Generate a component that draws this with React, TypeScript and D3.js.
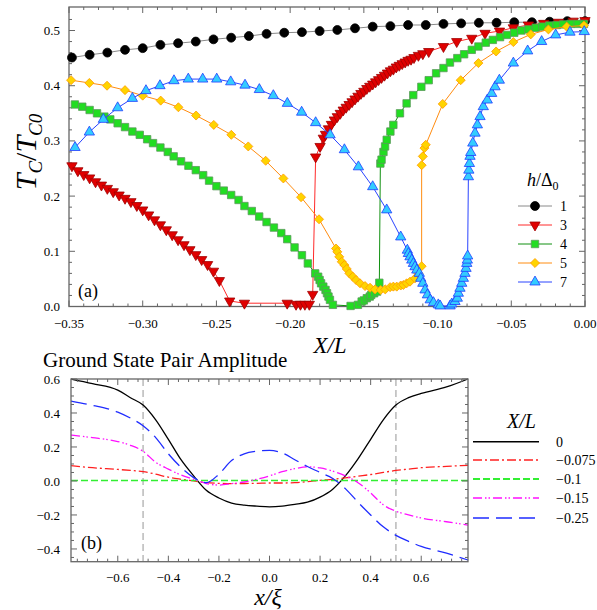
import React, { useRef, useEffect } from 'react';
import * as d3 from 'd3';

// ---- panel (a): Tc/Tc0 vs X/L, one series per h/Delta0 ----
const hLabels = ['1', '3', '4', '5', '7'];

const h1: [number, number][] = [
  [-0.348, 0.451], [-0.336, 0.456], [-0.324, 0.46], [-0.312, 0.465], [-0.3, 0.468],
  [-0.288, 0.474], [-0.276, 0.477], [-0.264, 0.48], [-0.252, 0.484], [-0.24, 0.487],
  [-0.228, 0.49], [-0.216, 0.494], [-0.204, 0.496], [-0.192, 0.497], [-0.18, 0.499],
  [-0.168, 0.501], [-0.156, 0.504], [-0.144, 0.507], [-0.132, 0.508], [-0.12, 0.51],
  [-0.108, 0.51], [-0.096, 0.512], [-0.084, 0.513], [-0.072, 0.514], [-0.06, 0.514],
  [-0.048, 0.515], [-0.036, 0.515], [-0.024, 0.516], [-0.012, 0.517], [0.0, 0.517],
];

const h3: [number, number][] = [
  [-0.348, 0.255], [-0.344, 0.246], [-0.34, 0.239], [-0.336, 0.233], [-0.332, 0.226],
  [-0.328, 0.22], [-0.324, 0.214], [-0.32, 0.208], [-0.316, 0.202], [-0.312, 0.196],
  [-0.308, 0.19], [-0.304, 0.183], [-0.3, 0.175], [-0.296, 0.166], [-0.292, 0.157],
  [-0.288, 0.148], [-0.284, 0.139], [-0.28, 0.13], [-0.276, 0.121], [-0.272, 0.112],
  [-0.268, 0.103], [-0.264, 0.094], [-0.26, 0.085], [-0.256, 0.076], [-0.252, 0.064],
  [-0.248, 0.047], [-0.241, 0.01], [-0.231, 0.006], [-0.202, 0.006], [-0.196, 0.004],
  [-0.193, 0.004], [-0.19, 0.004], [-0.187, 0.004], [-0.1847, 0.022], [-0.1827, 0.271],
  [-0.1797, 0.29], [-0.1775, 0.305], [-0.176, 0.312], [-0.174, 0.322], [-0.172, 0.33],
  [-0.17, 0.338], [-0.168, 0.344], [-0.166, 0.35], [-0.164, 0.356], [-0.162, 0.361],
  [-0.16, 0.366], [-0.158, 0.371], [-0.156, 0.376], [-0.154, 0.381], [-0.152, 0.386],
  [-0.15, 0.39], [-0.148, 0.395], [-0.146, 0.399], [-0.144, 0.403], [-0.142, 0.407],
  [-0.14, 0.411], [-0.138, 0.415], [-0.136, 0.419], [-0.134, 0.423], [-0.132, 0.427],
  [-0.13, 0.43], [-0.128, 0.434], [-0.126, 0.437], [-0.124, 0.44], [-0.122, 0.443],
  [-0.12, 0.446], [-0.118, 0.448], [-0.116, 0.451], [-0.113, 0.455], [-0.11, 0.458],
  [-0.106, 0.462], [-0.096, 0.471], [-0.087, 0.48], [-0.0768, 0.486], [-0.0678, 0.495],
  [-0.058, 0.499], [-0.0486, 0.505], [-0.0384, 0.51], [-0.028, 0.513], [-0.018, 0.515],
  [-0.008, 0.517], [0.0, 0.518],
];

const h4: [number, number][] = [
  [-0.346, 0.366], [-0.341, 0.362], [-0.336, 0.356], [-0.331, 0.35], [-0.326, 0.344],
  [-0.322, 0.339], [-0.317, 0.332], [-0.312, 0.325], [-0.307, 0.317], [-0.302, 0.311],
  [-0.297, 0.303], [-0.293, 0.296], [-0.288, 0.288], [-0.283, 0.28], [-0.279, 0.272],
  [-0.274, 0.263], [-0.269, 0.255], [-0.264, 0.247], [-0.259, 0.238], [-0.255, 0.228],
  [-0.25, 0.218], [-0.245, 0.21], [-0.24, 0.202], [-0.235, 0.193], [-0.231, 0.182],
  [-0.226, 0.173], [-0.221, 0.163], [-0.216, 0.153], [-0.211, 0.143], [-0.206, 0.133],
  [-0.202, 0.122], [-0.197, 0.107], [-0.192, 0.093], [-0.188, 0.078], [-0.183, 0.06],
  [-0.181, 0.054], [-0.18, 0.048], [-0.179, 0.042], [-0.1775, 0.036], [-0.176, 0.03],
  [-0.175, 0.024], [-0.174, 0.018], [-0.173, 0.012], [-0.171, 0.003], [-0.159, 0.001],
  [-0.154, 0.003], [-0.1515, 0.009], [-0.15, 0.011], [-0.148, 0.015], [-0.146, 0.018],
  [-0.145, 0.021], [-0.143, 0.024], [-0.141, 0.027], [-0.1395, 0.043], [-0.1388, 0.259],
  [-0.138, 0.266], [-0.1367, 0.28], [-0.1356, 0.29], [-0.1345, 0.302], [-0.132, 0.317],
  [-0.13, 0.329], [-0.1255, 0.35], [-0.121, 0.368], [-0.1165, 0.383], [-0.111, 0.398],
  [-0.106, 0.41], [-0.101, 0.4225], [-0.096, 0.432], [-0.0916, 0.442], [-0.0866, 0.45],
  [-0.082, 0.457], [-0.0768, 0.465], [-0.0723, 0.471], [-0.0673, 0.478], [-0.0625, 0.483],
  [-0.0576, 0.488], [-0.053, 0.492], [-0.048, 0.496], [-0.0433, 0.5], [-0.0384, 0.502],
  [-0.0334, 0.505], [-0.0289, 0.507], [-0.0242, 0.509], [-0.0192, 0.51], [-0.0147, 0.511],
  [-0.0097, 0.512], [-0.005, 0.512], [-0.0007, 0.512],
];

const h5: [number, number][] = [
  [-0.3486, 0.41], [-0.3362, 0.405], [-0.3242, 0.4], [-0.312, 0.392], [-0.3, 0.382],
  [-0.2878, 0.373], [-0.2758, 0.361], [-0.2638, 0.346], [-0.2518, 0.329], [-0.2399, 0.311],
  [-0.2284, 0.29], [-0.2166, 0.264], [-0.2046, 0.232], [-0.1926, 0.198], [-0.1804, 0.158],
  [-0.1689, 0.105], [-0.168, 0.099], [-0.1667, 0.09], [-0.165, 0.081], [-0.1632, 0.075],
  [-0.1616, 0.068], [-0.1598, 0.06], [-0.1575, 0.054], [-0.1553, 0.048], [-0.1526, 0.042],
  [-0.1492, 0.037], [-0.1458, 0.034], [-0.1424, 0.031], [-0.1386, 0.03], [-0.1355, 0.031],
  [-0.1322, 0.035], [-0.13, 0.036], [-0.1277, 0.036], [-0.125, 0.038], [-0.1232, 0.039],
  [-0.121, 0.042], [-0.1187, 0.045], [-0.1153, 0.051], [-0.113, 0.06], [-0.1108, 0.073],
  [-0.1108, 0.256], [-0.11, 0.272], [-0.1089, 0.287], [-0.108, 0.293], [-0.0965, 0.367],
  [-0.0843, 0.41], [-0.0723, 0.441], [-0.0603, 0.462], [-0.0486, 0.479], [-0.0368, 0.493],
  [-0.0248, 0.502], [-0.0124, 0.507], [-0.0007, 0.509],
];

const h7: [number, number][] = [
  [-0.3459, 0.288], [-0.3362, 0.316], [-0.3267, 0.339], [-0.317, 0.36], [-0.307, 0.377],
  [-0.2978, 0.391], [-0.2883, 0.4], [-0.2788, 0.409], [-0.2691, 0.412], [-0.2593, 0.412],
  [-0.2498, 0.412], [-0.2403, 0.407], [-0.2306, 0.401], [-0.2209, 0.393], [-0.2114, 0.382],
  [-0.2019, 0.368], [-0.1922, 0.352], [-0.1827, 0.333], [-0.1729, 0.311], [-0.1632, 0.284],
  [-0.1537, 0.253], [-0.144, 0.217], [-0.1345, 0.175], [-0.125, 0.126], [-0.1205, 0.102],
  [-0.1198, 0.096], [-0.1187, 0.09], [-0.1175, 0.084], [-0.1164, 0.078], [-0.1153, 0.072],
  [-0.1141, 0.066], [-0.1124, 0.06], [-0.1114, 0.051], [-0.11, 0.042], [-0.1085, 0.03],
  [-0.1069, 0.021], [-0.105, 0.012], [-0.1028, 0.007], [-0.0995, 0.003], [-0.0983, 0.001],
  [-0.0915, 0.001], [-0.0904, 0.0045], [-0.0882, 0.009], [-0.0866, 0.015], [-0.0859, 0.024],
  [-0.0848, 0.033], [-0.0836, 0.042], [-0.0825, 0.051], [-0.0814, 0.06], [-0.0807, 0.069],
  [-0.0802, 0.078], [-0.0798, 0.084], [-0.0796, 0.0915], [-0.0791, 0.235], [-0.0788, 0.247],
  [-0.0784, 0.259], [-0.078, 0.272], [-0.0775, 0.279], [-0.0761, 0.296], [-0.0746, 0.314],
  [-0.073, 0.329], [-0.0712, 0.344], [-0.069, 0.362], [-0.0663, 0.374], [-0.0633, 0.386],
  [-0.061, 0.398], [-0.0581, 0.41], [-0.0486, 0.441], [-0.0389, 0.463], [-0.0294, 0.48],
  [-0.0199, 0.492], [-0.0102, 0.497], [-0.0005, 0.498],
];

const topTicksX = [-0.35, -0.3, -0.25, -0.2, -0.15, -0.1, -0.05, 0];
const topTicksY = [0, 0.1, 0.2, 0.3, 0.4, 0.5];

// ---- panel (b): ground state pair amplitude vs x/xi ----
const xs = [-0.785, -0.7, -0.6, -0.55, -0.5, -0.45, -0.4, -0.35, -0.3, -0.25, -0.2, -0.15, -0.1, -0.05, 0,
  0.05, 0.1, 0.15, 0.2, 0.25, 0.3, 0.35, 0.4, 0.45, 0.5, 0.55, 0.6, 0.7, 0.785];
const ampLabels = ['0', '\u22120.075', '\u22120.1', '\u22120.15', '\u22120.25'];
const amp0 = [0.6, 0.573, 0.535, 0.49, 0.447, 0.36, 0.245, 0.125, 0.03, -0.055, -0.1, -0.13, -0.142, -0.148, -0.152,
  -0.148, -0.138, -0.125, -0.095, -0.048, 0.03, 0.13, 0.245, 0.36, 0.447, 0.49, 0.515, 0.553, 0.6];
const amp075 = [0.09, 0.078, 0.068, 0.062, 0.055, 0.04, 0.022, 0.01, 0.0, -0.01, -0.014, -0.016, -0.015, -0.014, -0.012,
  -0.012, -0.01, -0.004, 0.004, 0.01, 0.018, 0.028, 0.038, 0.05, 0.062, 0.07, 0.078, 0.086, 0.092];
const amp1 = [0.003, 0.003, 0.003, 0.003, 0.003, 0.003, 0.003, 0.003, 0.003, 0.003, 0.003, 0.003, 0.003, 0.003, 0.003,
  0.003, 0.003, 0.003, 0.003, 0.003, 0.003, 0.003, 0.003, 0.003, 0.003, 0.003, 0.003, 0.003, 0.003];
const amp15 = [0.27, 0.255, 0.232, 0.21, 0.175, 0.11, 0.07, 0.035, 0.01, -0.015, -0.024, -0.016, -0.006, 0.01, 0.03,
  0.055, 0.072, 0.083, 0.077, 0.058, 0.03, -0.01, -0.07, -0.14, -0.178, -0.2, -0.218, -0.24, -0.26];
const amp25 = [0.47, 0.445, 0.405, 0.37, 0.325, 0.255, 0.16, 0.08, 0.02, -0.01, 0.04, 0.12, 0.16, 0.175, 0.18,
  0.165, 0.125, 0.085, 0.05, 0.015, -0.045, -0.125, -0.2, -0.27, -0.32, -0.355, -0.385, -0.425, -0.465];

const botTicksX = [-0.6, -0.4, -0.2, 0, 0.2, 0.4, 0.6];
const botTicksY = [-0.4, -0.2, 0, 0.2, 0.4, 0.6];

const FONT = "'Liberation Serif', 'Times New Roman', Tinos, 'DejaVu Serif', serif";
const AXIS = '#666';

const drawFrame = (g, x, y, majX, minX, majY, minY) => {
  const [x0, x1] = x.range();
  const [y0, y1] = y.range();
  const ticks = g.append('g').attr('stroke', AXIS).attr('stroke-width', 1);
  minX.forEach(v => {
    const len = majX.some(m => Math.abs(m - v) < 1e-6) ? 6 : 3;
    ticks.append('line').attr('x1', x(v)).attr('x2', x(v)).attr('y1', y0).attr('y2', y0 - len);
    ticks.append('line').attr('x1', x(v)).attr('x2', x(v)).attr('y1', y1).attr('y2', y1 + len);
  });
  minY.forEach(v => {
    const len = majY.some(m => Math.abs(m - v) < 1e-6) ? 6 : 3;
    ticks.append('line').attr('y1', y(v)).attr('y2', y(v)).attr('x1', x0).attr('x2', x0 + len);
    ticks.append('line').attr('y1', y(v)).attr('y2', y(v)).attr('x1', x1).attr('x2', x1 - len);
  });
  g.append('rect')
    .attr('x', x0).attr('y', y1)
    .attr('width', x1 - x0).attr('height', y0 - y1)
    .attr('fill', 'none').attr('stroke', AXIS).attr('stroke-width', 1.3);
};

const Chart = () => {
  const ref = useRef(null);

  useEffect(() => {
    const svg = d3.select(ref.current);
    svg.selectAll('*').remove();

    // ===== panel (a) =====
    const x = d3.scaleLinear().domain([-0.35, 0]).range([69, 585]);
    const y = d3.scaleLinear().domain([0, 0.5426]).range([306.5, 7]);

    const defs = svg.append('defs');
    defs.append('clipPath').attr('id', 'clipA')
      .append('rect').attr('x', 60).attr('y', 0).attr('width', 535).attr('height', 315);

    const series = [
      { data: h1, line: '#8a8a8a', fill: '#000', stroke: '#000', sym: d3.symbolCircle, size: 62, rot: 0 },
      { data: h3, line: '#ff2a2a', fill: '#e00000', stroke: '#a00000', sym: d3.symbolTriangle, size: 46, rot: 180 },
      { data: h4, line: '#109010', fill: '#22dd22', stroke: '#5a9a5a', sym: d3.symbolSquare, size: 55, rot: 0 },
      { data: h5, line: '#ff8c10', fill: '#ffd400', stroke: '#ff9a00', sym: d3.symbolDiamond2, size: 52, rot: 0 },
      { data: h7, line: '#2a44ff', fill: '#33ccff', stroke: '#1f3cff', sym: d3.symbolTriangle, size: 46, rot: 0 },
    ];

    const root = svg.append('g').style('font-family', FONT);

    const gA = root.append('g');
    drawFrame(gA, x, y, topTicksX, d3.range(-35, 1, 1).map(v => v / 100), topTicksY, d3.range(0, 27, 1).map(v => v / 50));

    const plotA = gA.append('g').attr('clip-path', 'url(#clipA)');
    const line = d3.line().x(d => x(d[0])).y(d => y(d[1]));
    series.forEach(s => {
      plotA.append('path').attr('d', line(s.data)).attr('fill', 'none')
        .attr('stroke', s.line).attr('stroke-width', 1);
      const sym = d3.symbol().type(s.sym).size(s.size);
      plotA.append('g').selectAll('path').data(s.data).enter().append('path')
        .attr('d', sym())
        .attr('transform', d => `translate(${x(d[0])},${y(d[1])}) rotate(${s.rot})`)
        .attr('fill', s.fill).attr('stroke', s.stroke).attr('stroke-width', 0.8);
    });

    // tick labels
    gA.append('g').selectAll('text').data(topTicksX).enter().append('text')
      .attr('x', d => x(d)).attr('y', 328).attr('text-anchor', 'middle')
      .attr('font-size', 13).text(d => d3.format('.2f')(d));
    gA.append('g').selectAll('text').data(topTicksY).enter().append('text')
      .attr('x', 60).attr('y', d => y(d)).attr('dy', '0.35em').attr('text-anchor', 'end')
      .attr('font-size', 13).text(d => d3.format('.1f')(d));

    gA.append('text').attr('x', 78).attr('y', 297).attr('font-size', 18).text('(a)');

    // axis titles
    const tl = gA.append('text').attr('transform', 'translate(36,152) rotate(-90)')
      .attr('text-anchor', 'middle').attr('font-size', 30);
    tl.append('tspan').attr('font-style', 'italic').text('T');
    tl.append('tspan').attr('font-style', 'italic').attr('font-size', 19).attr('dy', 6).text('C');
    tl.append('tspan').attr('dy', -6).text('/');
    tl.append('tspan').attr('font-style', 'italic').text('T');
    tl.append('tspan').attr('font-style', 'italic').attr('font-size', 19).attr('dy', 6).text('C0');

    gA.append('text').attr('x', 330).attr('y', 353).attr('text-anchor', 'middle')
      .attr('font-size', 23).attr('font-style', 'italic').text('X/L');

    // legend (a)
    const lg = gA.append('g');
    const hl = lg.append('text').attr('x', 527).attr('y', 186).attr('font-size', 18);
    hl.append('tspan').attr('font-style', 'italic').text('h');
    hl.append('tspan').text('/\u0394');
    hl.append('tspan').attr('font-size', 12).attr('dy', 4).text('0');
    series.forEach((s, i) => {
      const ly = 206 + i * 19;
      lg.append('line').attr('x1', 518).attr('x2', 552).attr('y1', ly).attr('y2', ly)
        .attr('stroke', s.line).attr('stroke-width', 1);
      lg.append('path').attr('d', d3.symbol().type(s.sym).size(s.size)())
        .attr('transform', `translate(535,${ly}) rotate(${s.rot})`)
        .attr('fill', s.fill).attr('stroke', s.stroke).attr('stroke-width', 0.8);
      lg.append('text').attr('x', 560).attr('y', ly).attr('dy', '0.35em')
        .attr('font-size', 14).text(hLabels[i]);
    });

    // ===== panel (b) =====
    const xb = d3.scaleLinear().domain([-0.785, 0.785]).range([71, 468]);
    const yb = d3.scaleLinear().domain([-0.475, 0.6]).range([561.7, 379]);

    const gB = root.append('g');
    gB.append('text').attr('x', 43).attr('y', 367).attr('font-size', 21)
      .text('Ground State Pair Amplitude');

    [-0.5, 0.5].forEach(v => {
      gB.append('line').attr('x1', xb(v)).attr('x2', xb(v)).attr('y1', 379).attr('y2', 561.7)
        .attr('stroke', '#a8a8a8').attr('stroke-width', 1.2).attr('stroke-dasharray', '7,4');
    });

    const curves = [
      { vals: amp0, color: '#000', dash: null, w: 1.3 },
      { vals: amp075, color: '#ff2020', dash: '9,3,2,3', w: 1.3 },
      { vals: amp1, color: '#33ee33', dash: '7,3', w: 1.5 },
      { vals: amp15, color: '#ff10ff', dash: '9,3,1.5,2,1.5,3', w: 1.3 },
      { vals: amp25, color: '#1f2cff', dash: '16,7', w: 1.3 },
    ];
    const lineB = d3.line().x(d => xb(d[0])).y(d => yb(d[1])).curve(d3.curveMonotoneX);
    curves.forEach(c => {
      const p = gB.append('path').attr('d', lineB(xs.map((v, i) => [v, c.vals[i]])))
        .attr('fill', 'none').attr('stroke', c.color).attr('stroke-width', c.w);
      if (c.dash) p.attr('stroke-dasharray', c.dash);
    });

    drawFrame(gB, xb, yb, botTicksX, d3.range(-19, 20, 1).map(v => v / 25), botTicksY, d3.range(-9, 13, 1).map(v => v / 20));

    gB.append('g').selectAll('text').data(botTicksX).enter().append('text')
      .attr('x', d => xb(d)).attr('y', 582).attr('text-anchor', 'middle')
      .attr('font-size', 13).text(d => d3.format('.1f')(d));
    gB.append('g').selectAll('text').data(botTicksY).enter().append('text')
      .attr('x', 60).attr('y', d => yb(d)).attr('dy', '0.35em').attr('text-anchor', 'end')
      .attr('font-size', 13).text(d => d3.format('.1f')(d));

    gB.append('text').attr('x', 81).attr('y', 549).attr('font-size', 18).text('(b)');

    gB.append('text').attr('x', 268).attr('y', 605).attr('text-anchor', 'middle')
      .attr('font-size', 24).attr('font-style', 'italic').text('x/\u03be');

    // legend (b)
    gB.append('text').attr('x', 507).attr('y', 428).attr('font-size', 20)
      .attr('font-style', 'italic').text('X/L');
    curves.forEach((c, i) => {
      const ly = [441.7, 460, 479, 498, 518][i];
      const l = gB.append('line').attr('x1', 473).attr('x2', 539).attr('y1', ly).attr('y2', ly)
        .attr('stroke', c.color).attr('stroke-width', c.w + 0.3);
      if (c.dash) l.attr('stroke-dasharray', c.dash);
      gB.append('text').attr('x', 556).attr('y', ly).attr('dy', '0.35em')
        .attr('font-size', 14).text(ampLabels[i]);
    });
  }, []);

  return (
    <svg ref={ref} width={597} height={610}
      style={{ position: 'absolute', left: 0, top: 0, background: '#fff' }} />
  );
};

export default function App() {
  return <Chart />;
}
